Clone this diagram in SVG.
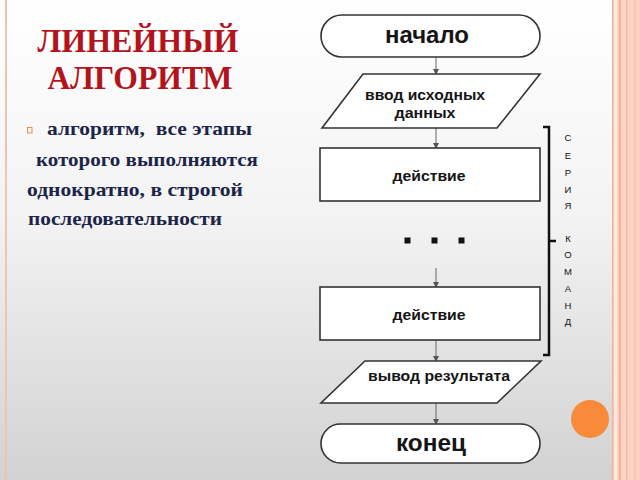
<svg xmlns="http://www.w3.org/2000/svg" width="640" height="480" viewBox="0 0 640 480">
<defs>
<linearGradient id="bg" x1="0" y1="0" x2="0" y2="1">
<stop offset="0" stop-color="#ffffff"/>
<stop offset="0.45" stop-color="#f3f3f3"/>
<stop offset="1" stop-color="#d2d2d2"/>
</linearGradient>
<marker id="arr" markerWidth="6" markerHeight="6" refX="5" refY="3" orient="auto" markerUnits="userSpaceOnUse">
<path d="M0,0 L6,3 L0,6 Z" fill="#555"/>
</marker>
<style>
.shape{fill:#ffffff;stroke:#333;stroke-width:1.6}
.conn{stroke:#666;stroke-width:1;fill:none;marker-end:url(#arr)}
.lbl{font-family:"Liberation Sans",Arial,sans-serif;font-weight:bold;fill:#151515;text-anchor:middle}
.big{font-size:24px}
.mid{font-size:14.5px}
.vert{font-family:"Liberation Sans",Arial,sans-serif;font-size:9.5px;fill:#111;text-anchor:middle}
.title{font-family:"Liberation Serif","Times New Roman",serif;font-weight:bold;font-size:34px;fill:#b3141c;text-anchor:middle}
.body{font-family:"Liberation Serif","Times New Roman",serif;font-weight:bold;font-size:19px;fill:#1c2548;white-space:pre}
</style>
</defs>
<rect x="0" y="0" width="640" height="480" fill="url(#bg)"/>
<rect x="5" y="0" width="2" height="480" fill="#f2c2b2"/>
<rect x="612" y="0" width="28" height="480" fill="#fbd2c3"/>
<rect x="612" y="0" width="1.5" height="480" fill="#f2b39c"/>
<rect x="614" y="0" width="3" height="480" fill="#fde9e2"/>
<rect x="619" y="0" width="2" height="480" fill="#f3b29a"/>
<rect x="626" y="0" width="1.5" height="480" fill="#f6bca7"/>
<rect x="634" y="0" width="1.5" height="480" fill="#f7c3b0"/>

<g id="title">
<text class="title" x="138" y="52" textLength="201" lengthAdjust="spacingAndGlyphs">ЛИНЕЙНЫЙ</text>
<text class="title" x="140" y="89" textLength="185" lengthAdjust="spacingAndGlyphs">АЛГОРИТМ</text>
</g>
<g id="definition">
<rect x="27.5" y="127.5" width="4.5" height="5.5" fill="none" stroke="#f08a4b" stroke-width="1"/>
<text class="body" x="47" y="135" textLength="205" lengthAdjust="spacingAndGlyphs" xml:space="preserve">алгоритм,  все этапы</text>
<text class="body" x="36" y="166" textLength="222" lengthAdjust="spacingAndGlyphs">которого выполняются</text>
<text class="body" x="27" y="196" textLength="216" lengthAdjust="spacingAndGlyphs">однократно, в строгой</text>
<text class="body" x="28" y="225" textLength="194" lengthAdjust="spacingAndGlyphs">последовательности</text>
</g>

<g id="connectors">
<line class="conn" x1="436" y1="57" x2="436" y2="74"/>
<line class="conn" x1="436" y1="128" x2="436" y2="148"/>
<line class="conn" x1="436" y1="268" x2="436" y2="287"/>
<line class="conn" x1="436" y1="340" x2="436" y2="361"/>
<line class="conn" x1="436" y1="403" x2="436" y2="424"/>
</g>

<g id="start">
<rect class="shape" x="321" y="15" width="219" height="42" rx="21" ry="21"/>
<text class="lbl big" x="427" y="43" textLength="84" lengthAdjust="spacingAndGlyphs">начало</text>
</g>
<g id="input">
<polygon class="shape" points="363,74 540,74 497,128 322,128"/>
<text class="lbl mid" x="425" y="100" textLength="120" lengthAdjust="spacingAndGlyphs">ввод исходных</text>
<text class="lbl mid" x="425" y="118" textLength="61" lengthAdjust="spacingAndGlyphs">данных</text>
</g>
<g id="action1">
<rect class="shape" x="320" y="148" width="220" height="53"/>
<text class="lbl mid" x="429" y="181" textLength="73" lengthAdjust="spacingAndGlyphs">действие</text>
</g>
<g id="ellipsis">
<rect x="404.5" y="237.5" width="6" height="6" fill="#111"/>
<rect x="431.5" y="237.5" width="6" height="6" fill="#111"/>
<rect x="458.5" y="237.5" width="6" height="6" fill="#111"/>
</g>
<g id="action2">
<rect class="shape" x="320" y="287" width="220" height="53"/>
<text class="lbl mid" x="429" y="320" textLength="73" lengthAdjust="spacingAndGlyphs">действие</text>
</g>
<g id="output">
<polygon class="shape" points="365,361 541,361 497,403 321,403"/>
<text class="lbl mid" x="439" y="381" textLength="142" lengthAdjust="spacingAndGlyphs">вывод результата</text>
</g>
<g id="end">
<rect class="shape" x="321" y="424" width="219" height="39" rx="19.5" ry="19.5"/>
<text class="lbl big" x="431" y="451" textLength="70" lengthAdjust="spacingAndGlyphs">конец</text>
</g>

<g id="series-bracket">
<path d="M543,127 H549 V355 H543 M549,241 H556" fill="none" stroke="#111" stroke-width="2.5"/>
<text class="vert" x="568" y="141">С</text>
<text class="vert" x="568" y="159">Е</text>
<text class="vert" x="568" y="176">Р</text>
<text class="vert" x="568" y="193">И</text>
<text class="vert" x="568" y="209">Я</text>
<text class="vert" x="568" y="242">К</text>
<text class="vert" x="568" y="258">О</text>
<text class="vert" x="568" y="275">М</text>
<text class="vert" x="568" y="292">А</text>
<text class="vert" x="568" y="309">Н</text>
<text class="vert" x="568" y="325">Д</text>
</g>

<circle cx="590" cy="419" r="19" fill="#f98a3a"/>
</svg>
